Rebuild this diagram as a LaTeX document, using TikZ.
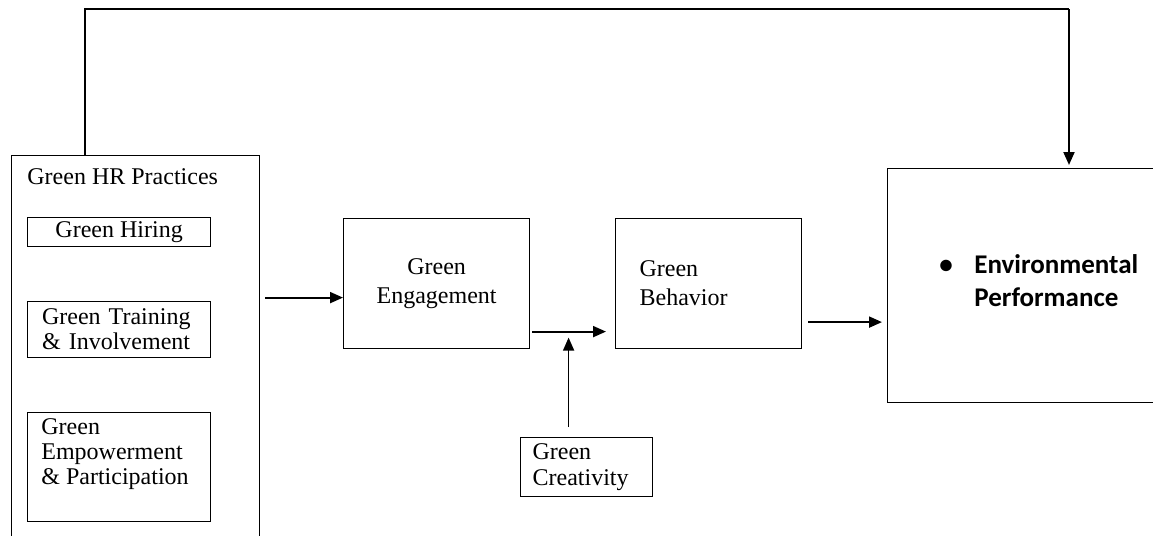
\documentclass[tikz,border=0pt]{standalone}
\usepackage{fontspec}
\setmainfont{Liberation Serif}
\newfontfamily\calibrifont{Carlito}
\usetikzlibrary{positioning, arrows.meta, calc}

\begin{document}
\begin{tikzpicture}[x=0.5pt, y=-0.5pt,
    box/.style={draw, rectangle, anchor=north west, line width=0.6pt, inner sep=0pt, font=\fontsize{12}{12.5}\selectfont},
    txt/.style={inner sep=0pt, font=\fontsize{12}{12.5}\selectfont},
    arrow/.style={-{Triangle[length=6.5pt, width=5.5pt]}, line width=1pt}]
\useasboundingbox (0,0) rectangle (1153,536);
\clip (0,0) rectangle (1153,536);
% practices block
\node[box, minimum width=124pt, minimum height=202.5pt] (hr) at (11,155) {};
\node[txt, below right=6.5pt and 8pt of hr.north west] (hrtitle) {Green HR Practices};
\node[box, minimum width=91.5pt, minimum height=14.5pt] (hire) at (27,217) {Green Hiring};
\node[box, minimum width=91.5pt, minimum height=28pt, text width=77pt, inner xsep=7pt, align=left] (train) at (27,301) {Green Training\\ \& Involvement};
\node[box, minimum width=91.5pt, minimum height=54.5pt] (emp) at (27,412) {};
\node[txt, below right=3pt and 7pt of emp.north west, align=left] (emptext) {Green\\Empowerment\\\& Participation};
% middle boxes
\node[box, minimum width=93pt, minimum height=65pt, align=center, font=\fontsize{12}{14.5}\selectfont] (eng) at (343,218) {Green\\Engagement};
\node[box, minimum width=93pt, minimum height=65pt, text width=69pt, inner xsep=12pt, align=left, font=\fontsize{12}{14.5}\selectfont] (beh) at (615,218) {Green\\Behavior};
\node[box, minimum width=66pt, minimum height=29.5pt, text width=54pt, inner xsep=6pt, align=left, font=\fontsize{12}{13}\selectfont] (cre) at (520,437) {Green\\Creativity};
% outcome
\node[box, minimum width=141.5pt, minimum height=117pt] (env) at (887,168) {};
\node[txt, below right=43pt and 26pt of env.north west, align=left, font=\calibrifont\bfseries\fontsize{13.5}{16.5}\selectfont] (envtext) {\makebox[17.5pt][l]{\textbullet}Environmental\\\hspace*{17.5pt}Performance};

% feedback line
\coordinate (turn) at (1069,9);
\draw[line width=0.6pt] ([xshift=37pt]hr.north west) |- (turn);
\draw[arrow, shorten >=1.5pt] (turn) -- (turn |- env.north);

\coordinate (engin) at ([yshift=-7pt]eng.west);
\draw[arrow, shorten <=2.5pt] (hr.east |- engin) -- (engin);
\coordinate (engout) at ([yshift=-24pt]eng.east);
\draw[arrow, shorten <=1pt, shorten >=4.5pt] (engout) -- (engout -| beh.west);
\draw[arrow, line width=0.8pt, shorten <=5pt, shorten >=3pt] ([xshift=-9pt]cre.north) -- ([xshift=-9pt]cre.north |- engout);
\coordinate (behout) at ([yshift=-19.25pt]beh.east);
\draw[arrow, shorten <=3pt, shorten >=2.5pt] (behout) -- (behout -| env.west);
\end{tikzpicture}
\end{document}
